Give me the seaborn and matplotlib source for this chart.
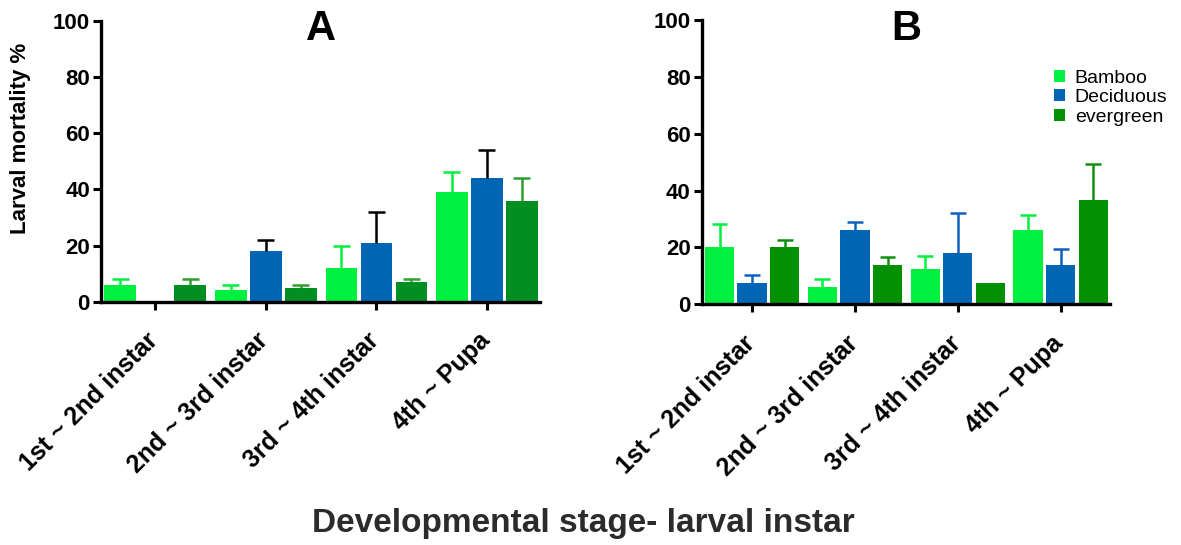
import numpy as np
import pandas as pd
import matplotlib
matplotlib.use("Agg")
import matplotlib.pyplot as plt
import matplotlib.transforms as mtransforms
import seaborn as sns
from matplotlib.patches import Patch

stages = ["1st ~ 2nd instar", "2nd ~ 3rd instar", "3rd ~ 4th instar", "4th ~ Pupa"]
habitats = ["Bamboo", "Deciduous", "evergreen"]

# Panel A: means and upper error (SEM)
a_bamboo = [6, 4, 12, 39]
a_bamboo_err = [2, 2, 8, 7]
a_decid = [0, 18, 21, 44]
a_decid_err = [0, 4, 11, 10]
a_ever = [6, 5, 7, 36]
a_ever_err = [2, 1, 1, 8]

# Panel B
b_bamboo = [20, 6, 12.5, 26]
b_bamboo_err = [8.3, 2.8, 4.5, 5.5]
b_decid = [7.5, 26, 18, 13.8]
b_decid_err = [2.9, 2.8, 14, 5.7]
b_ever = [20, 13.8, 7.6, 36.8]
b_ever_err = [2.6, 3, 0, 12.7]

bamboo_col = "#00F040"
decid_col = "#0066B4"

sns.set_theme(style="ticks")
plt.rcParams['font.family'] = ['Liberation Sans', 'DejaVu Sans']
plt.rcParams['font.weight'] = 'bold'
plt.rcParams['text.color'] = 'black'
plt.rcParams['xtick.color'] = 'black'
plt.rcParams['ytick.color'] = 'black'

fig = plt.figure(figsize=(11.81, 5.45), dpi=100)
axA = fig.add_axes([101/1181, 1-301.7/545, (540-101)/1181, (301.7-20.7)/545])
axB = fig.add_axes([701.7/1181, 1-304.3/545, (1110-701.7)/1181, (304.3-20)/545])


def draw(ax, vals, errs, palette, errcols, title):
    rows = []
    for h, v in zip(habitats, vals):
        for s, x in zip(stages, v):
            rows.append({"stage": s, "habitat": h, "value": x})
    df = pd.DataFrame(rows)
    sns.barplot(data=df, x="stage", y="value", hue="habitat", hue_order=habitats,
                order=stages, palette=palette, width=0.95, gap=0.1,
                errorbar=None, legend=False, saturation=1, linewidth=0, ax=ax)
    patches = ax.patches
    k = 0
    for hi, h in enumerate(habitats):
        for si in range(len(stages)):
            p = patches[k]
            k += 1
            e = errs[hi][si]
            if e > 0:
                xc = p.get_x() + p.get_width() / 2
                top = p.get_height()
                half = p.get_width() * 0.27
                ax.vlines(xc, top, top + e, colors=errcols[hi], linewidth=1.8, zorder=1)
                ax.hlines(top + e, xc - half, xc + half, colors=errcols[hi],
                          linewidth=1.8, zorder=1)
    ax.set_xlim(-0.49, 3.48)
    ax.set_ylim(0, 100)
    ax.set_yticks([0, 20, 40, 60, 80, 100])
    ax.set_xlabel("")
    ax.set_ylabel("")
    for sp in ["top", "right"]:
        ax.spines[sp].set_visible(False)
    for sp in ["left", "bottom"]:
        ax.spines[sp].set_linewidth(2.4)
        ax.spines[sp].set_color("black")
    ax.tick_params(axis='both', direction='out', length=6, width=2.2, color='black',
                   labelsize=16, pad=2, labelcolor='black')
    for lab in ax.get_yticklabels():
        lab.set_fontweight('bold')
    ax.set_xticks(range(len(stages)))
    ax.set_xticklabels(stages, rotation=45, ha='right', rotation_mode='anchor',
                       fontsize=18, fontweight='bold', va='center')
    off = mtransforms.ScaledTranslation(-1/100, -24/100, fig.dpi_scale_trans)
    for lab in ax.get_xticklabels():
        lab.set_transform(lab.get_transform() + off)
    ax.text(0.5, 0.931, title, transform=ax.transAxes, ha='center', va='baseline',
            fontsize=30, fontweight='bold', color='black')


draw(axA, [a_bamboo, a_decid, a_ever], [a_bamboo_err, a_decid_err, a_ever_err],
     {"Bamboo": bamboo_col, "Deciduous": decid_col, "evergreen": "#008F20"},
     [bamboo_col, "black", "#2E9E2E"], "A")
draw(axB, [b_bamboo, b_decid, b_ever], [b_bamboo_err, b_decid_err, b_ever_err],
     {"Bamboo": bamboo_col, "Deciduous": decid_col, "evergreen": "#009000"},
     [bamboo_col, "#1060C0", "#109010"], "B")

handles = [Patch(facecolor=c, edgecolor='none') for c in [bamboo_col, decid_col, "#009000"]]
fig.legend(handles, habitats, loc='upper left', bbox_to_anchor=(1054/1181, 1-70/545),
           frameon=False, prop={'size': 14, 'weight': 'normal'},
           handlelength=0.57, handleheight=0.57, handletextpad=0.5,
           labelspacing=0.12, borderpad=0, borderaxespad=0)

fig.text(21/1181, 1-138/545, "Larval mortality %", rotation=90, ha='center', va='center',
         fontsize=16, fontweight='bold', color='black')
fig.text(583/1181, 1-532/545, "Developmental stage- larval instar", ha='center',
         va='baseline', fontsize=24, fontweight='bold', color='#2B2B2B')

fig.savefig("out.png", dpi=100)
